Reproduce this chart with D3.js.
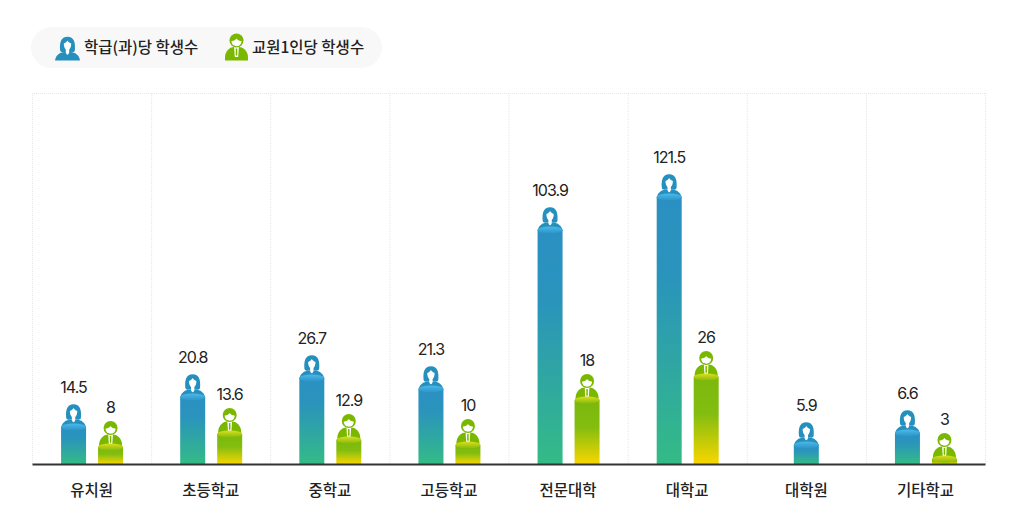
<!DOCTYPE html>
<html>
<head>
<meta charset="utf-8">
<script src="https://cdn.jsdelivr.net/npm/d3@7/dist/d3.min.js"></script>
<style>
  html, body { margin: 0; padding: 0; background: #fff; }
  svg { display: block; }
  text { font-family: "Inter", "Noto Sans CJK KR", sans-serif; fill: #222; }
  .kr { font-family: "Noto Sans CJK KR", sans-serif; }
</style>
</head>
<body>
<svg width="1016" height="530"></svg>
<script>
// data
var categories = ["유치원", "초등학교", "중학교", "고등학교", "전문대학", "대학교", "대학원", "기타학교"];
var classValues = [14.5, 20.8, 26.7, 21.3, 103.9, 121.5, 5.9, 6.6];
var teacherValues = [8, 13.6, 12.9, 10, 18, 26, null, 3];
var seriesNames = ["학급(과)당 학생수", "교원1인당 학생수"];

var svg = d3.select("svg");

var left = 32, right = 985, top_ = 93, baseline = 464, barWidth = 25;

// the source bars are not to one linear scale, each series has its own bent one
var yClass = d3.scaleLinear()
    .domain([0, 5.9, 6.6, 14.5, 20.8, 21.3, 26.7, 103.9, 121.5])
    .range([baseline, 445, 433, 427, 397, 389, 378, 230, 197]);
var yTeacher = d3.scaleLinear()
    .domain([0, 3, 8, 10, 12.9, 13.6, 18, 26])
    .range([baseline, 459, 447, 445, 440, 434, 400, 377]);

var x = d3.scaleBand().domain(categories).range([left, right]);
var xSeries = d3.scaleBand().domain([0, 1]).range([-30.5, 31.5]).paddingInner(0.324);

// gradients
var defs = svg.append("defs");
function addGradient(id, c1, c2, stops) {
    var g = defs.append("linearGradient").attr("id", id)
        .attr("x1", 0).attr("y1", 0).attr("x2", 0).attr("y2", 1);
    g.append("stop").attr("offset", "0%").attr("stop-color", c1);
    if (stops) g.append("stop").attr("offset", stops[0]).attr("stop-color", stops[1]);
    g.append("stop").attr("offset", "100%").attr("stop-color", c2);
}
addGradient("blueBar", "#2a90c2", "#34bb86", ["30%", "#2a94bc"]);
addGradient("greenBar", "#7cb80c", "#f8d600", ["42%", "#82bd10"]);
addGradient("blueCap", "#4cb8ea", "#2c94c6");
addGradient("greenCap", "#dcdf1c", "#84bb0e");

// person symbols, origin at the middle of the bar top
function drawWoman(g) {
    var c = "#2590be";
    g.append("path").attr("fill", c)
        .attr("d", "M-12.5,1 C-12,-4 -7.5,-7.5 -3,-7.5 L3,-7.5 C7.5,-7.5 12,-4 12.5,1 Z");
    g.append("path").attr("fill", c)
        .attr("d", "M-7.4,-9.5 C-8,-17 -6.5,-22.7 0,-22.7 C6.5,-22.7 8,-17 7.4,-9.5 C7.2,-7.5 5.5,-6.8 3.5,-7.5 L-3.5,-7.5 C-5.5,-6.8 -7.2,-7.5 -7.4,-9.5 Z");
    g.append("path").attr("fill", "#fff")
        .attr("d", "M-3.7,-16 C-2,-16.5 -0.8,-17.8 0,-19 C0.8,-17.8 2,-16.5 3.7,-16 C3.7,-13 2.8,-11 1.7,-10 L1.7,-7 C1.5,-6 0.7,-5 0,-4.8 C-0.7,-5 -1.5,-6 -1.7,-7 L-1.7,-10 C-2.8,-11 -3.7,-13 -3.7,-16 Z");
}
function drawMan(g) {
    var c = "#7ab800";
    g.append("path").attr("fill", c)
        .attr("d", "M-11.5,1 L-11.5,-2 C-11.5,-8 -7,-12.5 -2.5,-12.5 L2.5,-12.5 C7,-12.5 11.5,-8 11.5,-2 L11.5,1 Z");
    g.append("path").attr("fill", "#fff")
        .attr("d", "M-2.4,-13 L2.4,-13 L1.7,-2.5 L-1.7,-2.5 Z");
    g.append("path").attr("fill", c)
        .attr("d", "M-0.7,-11 L0.7,-11 L0.8,-5 L0,-3.5 L-0.8,-5 Z");
    g.append("circle").attr("cy", -19).attr("r", 7).attr("fill", c);
    g.append("path").attr("fill", "#fff")
        .attr("d", "M-5,-18.5 C-3,-18.2 -1,-19.5 0,-21 C1,-19.5 3,-18.2 5,-18.5 C5,-15 2.5,-13.3 0,-13.3 C-2.5,-13.3 -5,-15 -5,-18.5 Z");
}

// legend
svg.append("rect").attr("x", 31).attr("y", 27).attr("width", 351).attr("height", 41)
    .attr("rx", 20.5).attr("fill", "#f8f8f8");
drawWoman(svg.append("g").attr("transform", "translate(67.5,59.5)"));
drawMan(svg.append("g").attr("transform", "translate(236.5,59.5)"));
svg.selectAll(".legend-label").data(seriesNames).join("text")
    .attr("class", "legend-label kr")
    .attr("x", (d, i) => i === 0 ? 84 : 252)
    .attr("y", 53)
    .attr("font-size", 15.5)
    .attr("font-weight", 500)
    .text(d => d);

// frame and column separators, dotted
var gridColor = "#e6e6e6";
svg.append("g").selectAll("line")
    .data(categories.concat(["end"]))
    .join("line")
    .attr("x1", (d, i) => i < categories.length ? x(d) + 0.5 : right + 0.5)
    .attr("x2", (d, i) => i < categories.length ? x(d) + 0.5 : right + 0.5)
    .attr("y1", top_)
    .attr("y2", baseline)
    .attr("stroke", gridColor)
    .attr("stroke-dasharray", "1,1");
svg.append("line").attr("x1", left).attr("x2", right)
    .attr("y1", top_ + 0.5).attr("y2", top_ + 0.5)
    .attr("stroke", gridColor).attr("stroke-dasharray", "1,1");

// one group per series
function drawSeries(values, seriesIndex, y, barFill, capFill, capSymbol) {
    var rows = categories.map((c, i) => ({ category: c, value: values[i], other: seriesIndex === 0 ? teacherValues[i] : classValues[i] }))
        .filter(d => d.value !== null);

    // a lone bar sits in the middle of its column
    var cx = d => x(d.category) + x.bandwidth() / 2 +
        (d.other === null ? 0 : xSeries(seriesIndex) + xSeries.bandwidth() / 2);

    var g = svg.append("g").selectAll("g").data(rows).join("g");

    g.each(function(d) {
        capSymbol(d3.select(this).append("g").attr("transform", `translate(${cx(d)},${y(d.value)})`));
    });

    g.append("rect")
        .attr("x", d => cx(d) - barWidth / 2)
        .attr("y", d => y(d.value))
        .attr("width", barWidth)
        .attr("height", d => baseline - y(d.value))
        .attr("fill", `url(#${barFill})`);

    g.append("ellipse")
        .attr("cx", cx)
        .attr("cy", d => y(d.value))
        .attr("rx", barWidth / 2)
        .attr("ry", 3.5)
        .attr("fill", `url(#${capFill})`);

    g.append("text")
        .attr("x", cx)
        .attr("y", d => y(d.value) - 34)
        .attr("text-anchor", "middle")
        .attr("font-size", 16)
        .attr("letter-spacing", -1)
        .text(d => d.value);
}
drawSeries(classValues, 0, yClass, "blueBar", "blueCap", drawWoman);
drawSeries(teacherValues, 1, yTeacher, "greenBar", "greenCap", drawMan);

// x axis
var axis = svg.append("g")
    .attr("transform", `translate(0,${baseline})`)
    .call(d3.axisBottom(x).tickSize(0).tickPadding(21));
axis.select(".domain").attr("stroke", "#333").attr("stroke-width", 2);
axis.selectAll("text")
    .attr("class", "kr")
    .attr("font-size", 15.5)
    .attr("font-weight", 500)
    .attr("font-family", null)
    .attr("fill", "#222");
</script>
</body>
</html>
